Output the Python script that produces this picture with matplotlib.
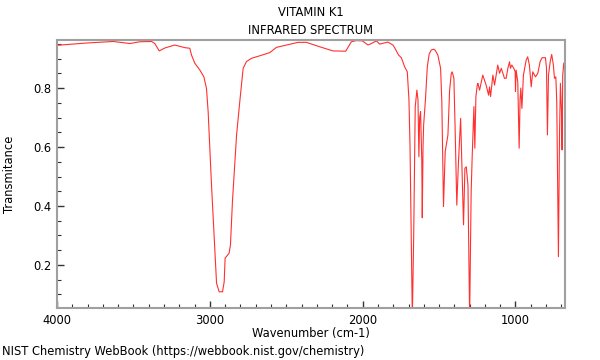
import matplotlib
matplotlib.use('Agg')
from matplotlib import pyplot as plt
from matplotlib.ticker import MultipleLocator

# IR spectrum (wavenumber cm-1, transmittance)
wavenumber = [
    4000, 3800, 3632, 3523, 3458, 3381, 3360, 3331, 3294, 3229, 3163, 3131, 3120, 3098,
    3065, 3039, 3022, 3011, 2989, 2967, 2956, 2939, 2917, 2906, 2900, 2874, 2865, 2852,
    2825, 2804, 2782, 2760, 2727, 2695, 2608, 2564, 2499, 2423, 2368, 2281, 2194, 2111,
    2074, 2041, 2002, 1965, 1943, 1910, 1889, 1835, 1802, 1791, 1765, 1747, 1725, 1708,
    1697, 1690, 1682, 1675, 1666, 1656, 1645, 1638, 1632, 1627, 1621, 1613, 1610, 1605,
    1601, 1590, 1577, 1565, 1551, 1535, 1525, 1508, 1490, 1482, 1471, 1460, 1442, 1431,
    1420, 1414, 1403, 1394, 1384, 1373, 1359, 1351, 1340, 1331, 1322, 1311, 1300, 1290,
    1283, 1272, 1266, 1259, 1250, 1246, 1235, 1214, 1192, 1176, 1170, 1163, 1148, 1137,
    1116, 1104, 1093, 1072, 1061, 1050, 1039, 1033, 1024, 1011, 1002, 1000, 996, 985,
    976, 970, 965, 958, 948, 930, 920, 909, 897, 887, 869, 854, 839, 826, 804, 797,
    791, 784, 773, 763, 752, 745, 736, 730, 719, 712, 706, 699, 695, 691, 684, 676,
]
transmittance = [
    0.945, 0.953, 0.958, 0.951, 0.957, 0.958, 0.951, 0.926, 0.936, 0.946, 0.937, 0.935, 0.912, 0.884,
    0.861, 0.838, 0.799, 0.720, 0.471, 0.245, 0.138, 0.109, 0.109, 0.143, 0.223, 0.240, 0.268, 0.415,
    0.641, 0.754, 0.867, 0.890, 0.901, 0.906, 0.920, 0.938, 0.946, 0.955, 0.955, 0.940, 0.926, 0.925,
    0.957, 0.961, 0.960, 0.946, 0.951, 0.960, 0.949, 0.956, 0.946, 0.937, 0.912, 0.903, 0.872, 0.855,
    0.760, 0.600, 0.300, 0.020, 0.300, 0.737, 0.793, 0.760, 0.567, 0.700, 0.720, 0.550, 0.360, 0.600,
    0.675, 0.754, 0.872, 0.915, 0.929, 0.932, 0.928, 0.912, 0.867, 0.754, 0.398, 0.584, 0.641, 0.793,
    0.850, 0.855, 0.833, 0.641, 0.403, 0.550, 0.697, 0.550, 0.336, 0.528, 0.533, 0.471, 0.020, 0.449,
    0.573, 0.737, 0.596, 0.771, 0.810, 0.816, 0.793, 0.844, 0.810, 0.776, 0.804, 0.771, 0.844, 0.810,
    0.878, 0.850, 0.867, 0.833, 0.833, 0.867, 0.889, 0.867, 0.878, 0.867, 0.855, 0.788, 0.861, 0.821,
    0.596, 0.760, 0.800, 0.731, 0.844, 0.895, 0.906, 0.878, 0.804, 0.855, 0.838, 0.850, 0.889, 0.903, 0.903, 0.867,
    0.641, 0.844, 0.889, 0.914, 0.878, 0.833, 0.838, 0.754, 0.228, 0.641, 0.816, 0.720, 0.590, 0.844, 0.884, 0.889,
]

x_major_ticks = [4000, 3000, 2000, 1000]
y_major_ticks = [0.2, 0.4, 0.6, 0.8]

plt.rcParams['font.family'] = ['DejaVu Sans']
FS = 8.3

fig = plt.figure(figsize=(6, 3.6), dpi=100)
ax = fig.add_axes((57 / 600, 1 - 308 / 360, 508 / 600, 268 / 360))

ax.plot(wavenumber, transmittance, color='#ff3030', lw=0.8)

ax.set_xlim(4000, 676)
ax.set_ylim(0.054, 0.963)

ax.set_xticks(x_major_ticks)
ax.set_yticks(y_major_ticks)
ax.xaxis.set_minor_locator(MultipleLocator(100))
ax.yaxis.set_minor_locator(MultipleLocator(0.05))
ax.tick_params(which='both', direction='in', colors='#333333', labelcolor='black', labelsize=FS)
ax.tick_params(which='major', length=5, width=1, pad=4)
ax.tick_params(which='minor', length=3, width=0.8)

for spine in ax.spines.values():
    spine.set_color('#a0a0a0')
    spine.set_linewidth(1.5)

ax.set_xlabel('Wavenumber (cm-1)', fontsize=FS)
ax.xaxis.set_label_coords(0.5, -0.072)
ax.set_ylabel('Transmitance', fontsize=FS)
ax.yaxis.set_label_coords(-41 / 508, 0.5)

# two-line title, centred over the axes
fig.text(311 / 600, 1 - 13 / 360, 'VITAMIN K1', ha='center', va='center', fontsize=FS)
fig.text(311 / 600, 1 - 30 / 360, 'INFRARED SPECTRUM', ha='center', va='center', fontsize=FS)

fig.text(2 / 600, 1 - 352 / 360, 'NIST Chemistry WebBook (https://webbook.nist.gov/chemistry)',
         ha='left', va='center', fontsize=FS)

fig.savefig('out.png', dpi=100)
plt.close(fig)
